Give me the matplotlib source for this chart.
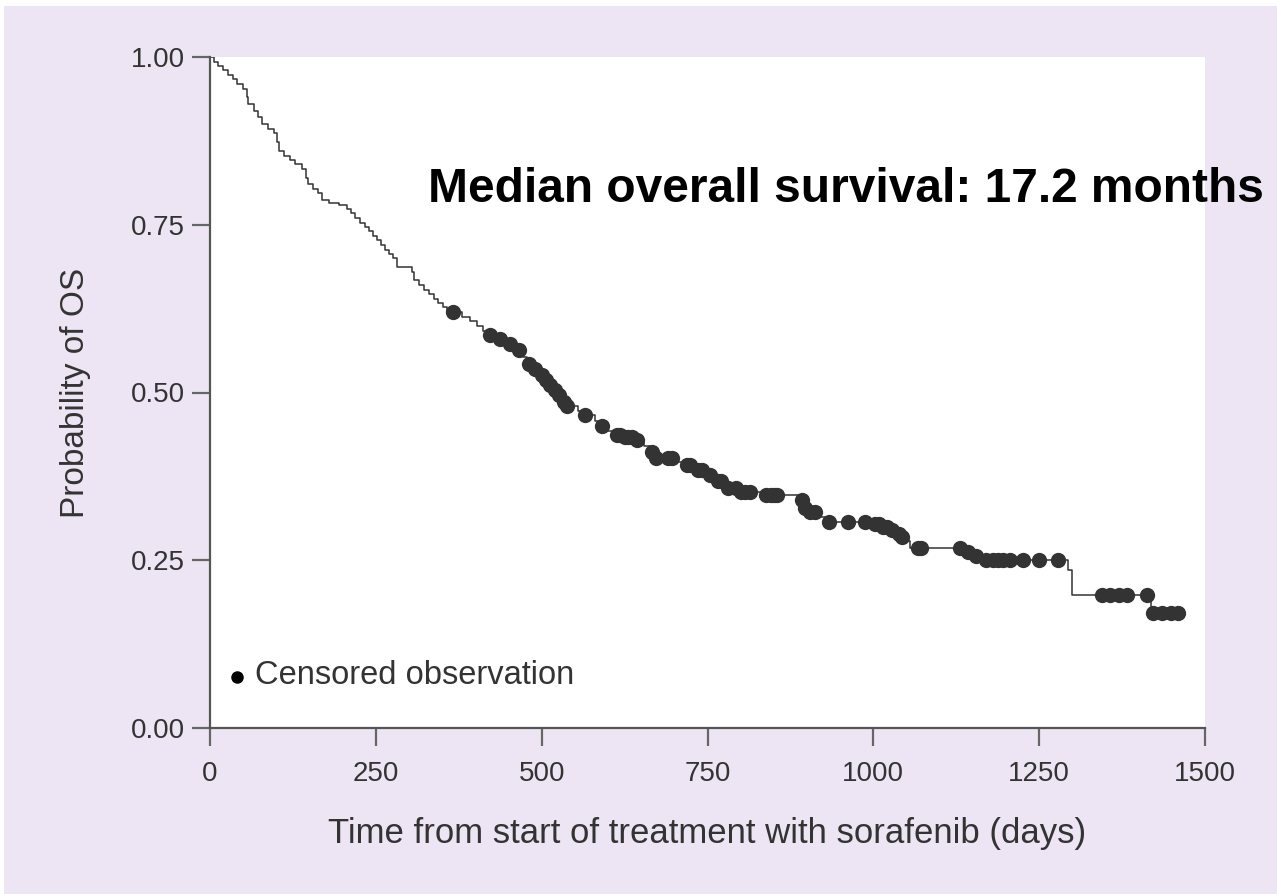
import numpy as np
import matplotlib
matplotlib.use("Agg")
import matplotlib.pyplot as plt
from matplotlib.patches import Rectangle

plt.rcParams['font.family'] = ['Liberation Sans', 'DejaVu Sans']

# Kaplan-Meier steps: event time (days) and survival after it
event_days = [6, 12, 20, 27, 34, 41, 50, 56, 58, 66, 73, 79, 88, 96, 101, 104, 112, 120,
              128, 138, 144, 147, 155, 163, 169, 180, 195, 206, 212, 218, 226, 233, 240,
              246, 252, 258, 264, 270, 276, 282, 304, 307, 315, 322, 330, 337, 344, 351,
              358, 380, 392, 403, 412, 418, 430, 445, 460, 472, 478, 486, 495, 503, 510,
              518, 522, 528, 532, 536, 555, 562, 580, 588, 600, 610, 622, 638, 655, 664,
              671, 705, 714, 728, 733, 745, 752, 760, 766, 775, 780, 795, 830, 888, 893,
              897, 905, 920, 928, 1000, 1012, 1024, 1034, 1040, 1046, 1055, 1138, 1150,
              1165, 1294, 1300, 1418]
surv = [0.993, 0.987, 0.980, 0.973, 0.967, 0.960, 0.953, 0.940, 0.930, 0.920, 0.910, 0.900,
        0.893, 0.887, 0.873, 0.860, 0.853, 0.847, 0.840, 0.833, 0.820, 0.810, 0.803, 0.797,
        0.787, 0.783, 0.780, 0.773, 0.767, 0.760, 0.753, 0.747, 0.740, 0.733, 0.727, 0.720,
        0.713, 0.707, 0.700, 0.687, 0.680, 0.667, 0.660, 0.653, 0.647, 0.640, 0.633, 0.627,
        0.620, 0.613, 0.606, 0.599, 0.592, 0.586, 0.579, 0.572, 0.564, 0.553, 0.543, 0.535,
        0.526, 0.518, 0.511, 0.503, 0.497, 0.490, 0.486, 0.480, 0.473, 0.467, 0.458, 0.450,
        0.443, 0.437, 0.433, 0.429, 0.420, 0.412, 0.403, 0.397, 0.392, 0.387, 0.384, 0.380,
        0.377, 0.372, 0.368, 0.362, 0.357, 0.352, 0.347, 0.340, 0.333, 0.328, 0.322, 0.315,
        0.307, 0.304, 0.300, 0.295, 0.289, 0.284, 0.278, 0.268, 0.262, 0.256, 0.250, 0.236,
        0.198, 0.171]

censored_days = [367, 422, 437, 452, 466, 481, 490, 500, 506, 513, 520, 526, 533, 538, 566,
                 591, 613, 618, 625, 630, 636, 643, 667, 673, 690, 697, 719, 724, 736, 741,
                 754, 766, 771, 781, 793, 800, 807, 814, 838, 845, 850, 855, 892, 897, 905,
                 912, 933, 962, 987, 1003, 1008, 1015, 1020, 1028, 1038, 1043, 1068, 1072,
                 1131, 1142, 1155, 1170, 1180, 1188, 1196, 1206, 1226, 1249, 1279, 1345,
                 1357, 1370, 1382, 1412, 1422, 1435, 1448, 1460]
last_day = 1465

t = np.concatenate([[0], event_days, [last_day]])
s = np.concatenate([[1.0], surv, [surv[-1]]])

# censored marks sit on the curve
idx = np.searchsorted(event_days, censored_days, side='right')
s_cens = np.concatenate([[1.0], surv])[idx]

lavender = '#ede5f4'
ink = '#333333'

fig = plt.figure(figsize=(12.77, 8.94), dpi=100, facecolor='white')
fig.patches.append(Rectangle((4 / 1277, 0), 1, 1 - 6 / 894, transform=fig.transFigure,
                             facecolor=lavender, edgecolor='none', zorder=-10))
ax = fig.add_axes([210 / 1277, 1 - 728 / 894, 995 / 1277, 671 / 894])
ax.set_facecolor('white')

ax.step(t, s, where='post', color=ink, lw=1.1)
ax.plot(censored_days, s_cens, 'o', color=ink, ms=11, mec='none')

ax.set_xlim(0, 1500)
ax.set_ylim(0, 1)
ax.set_xticks([0, 250, 500, 750, 1000, 1250, 1500])
ax.set_yticks([0, 0.25, 0.5, 0.75, 1.0])
ax.set_yticklabels(['0.00', '0.25', '0.50', '0.75', '1.00'])

for side in ['top', 'right']:
    ax.spines[side].set_visible(False)
for side in ['left', 'bottom']:
    ax.spines[side].set_color('#555555')
    ax.spines[side].set_linewidth(1.6)
ax.tick_params(axis='both', direction='out', length=13, width=1.6, color='#666666',
               labelsize=20, labelcolor=ink)
ax.tick_params(axis='x', pad=11)
ax.tick_params(axis='y', pad=5)

ax.set_xlabel('Time from start of treatment with sorafenib (days)', fontsize=25, color=ink)
ax.set_ylabel('Probability of OS', fontsize=24, color=ink)
ax.xaxis.set_label_coords(0.5, -0.133)
ax.yaxis.set_label_coords(-0.120, 0.5)

ax.text(329, 0.802, 'Median overall survival: 17.2 months', fontsize=34.5, fontweight='bold',
        color='black', ha='left', va='center')

ax.plot([41], [0.076], 'o', color='black', ms=9, mec='none')
ax.text(68, 0.078, 'Censored observation', fontsize=23.5, color=ink, ha='left', va='center')

fig.savefig('out.png', dpi=100, facecolor=fig.get_facecolor())
